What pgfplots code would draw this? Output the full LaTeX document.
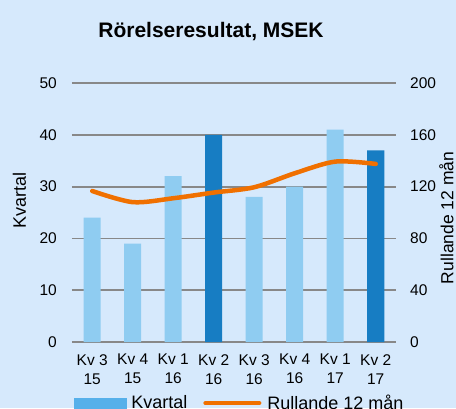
\documentclass[border=0pt]{standalone}
\usepackage{pgfplots}
\pgfplotsset{compat=1.18}
\usepackage{fontspec}
\setmainfont{Liberation Sans}
\definecolor{bg}{RGB}{214,233,252}
\definecolor{lightbar}{RGB}{143,204,241}
\definecolor{darkbar}{RGB}{23,125,195}
\definecolor{legblue}{RGB}{86,176,234}
\definecolor{lineorange}{RGB}{240,112,0}
\definecolor{gridgray}{RGB}{136,136,136}
\begin{document}
\begin{tikzpicture}
\useasboundingbox (0,0) rectangle (456pt,408pt);
\fill[bg] (0,0) rectangle (456pt,408pt);
\clip (0,0) rectangle (456pt,408pt);
\begin{axis}[
  at={(72pt,66pt)}, anchor=south west,
  scale only axis, width=324pt, height=259pt,
  xmin=-0.5, xmax=7.5, ymin=0, ymax=50,
  ytick={0,10,...,50},
  xtick={0,...,7},
  xticklabels={{Kv 3\\15},{Kv 4\\15},{Kv 1\\16},{Kv 2\\16},{Kv 3\\16},{Kv 4\\16},{Kv 1\\17},{Kv 2\\17}},
  ybar, bar width=17pt, bar shift=0pt,
  axis line style={draw=none},
  major tick length=0pt,
  ymajorgrids,
  major grid style={gridgray, line width=1.8pt},
  /pgf/number format/assume math mode=true,
  yticklabel style={font=\fontsize{15.5}{18}\selectfont, inner sep=0pt, xshift=-15pt},
  xticklabel style={font=\fontsize{15.5}{19}\selectfont, align=center, inner sep=0pt, yshift=-12pt},
  ylabel={Kvartal},
  ylabel style={font=\fontsize{18}{20}\selectfont, at={(rel axis cs:-0.162,0.548)}, anchor=center},
  title={\bfseries Rörelseresultat, MSEK},
  title style={font=\fontsize{21}{24}\selectfont, at={(rel axis cs:0.429,1.193)}, anchor=base, yshift=-10pt},
]
\addplot[fill=lightbar, draw=none] coordinates {(0,24) (1,19) (2,32) (4,28) (5,30) (6,41)};
\addplot[fill=darkbar, draw=none] coordinates {(3,40) (7,37)};
\end{axis}
\begin{axis}[
  at={(72pt,66pt)}, anchor=south west,
  scale only axis, width=324pt, height=259pt,
  xmin=-0.5, xmax=7.5, ymin=0, ymax=200,
  axis y line*=right, axis x line=none,
  axis line style={draw=none},
  major tick length=0pt,
  ytick={0,40,...,200},
  /pgf/number format/assume math mode=true,
  yticklabel style={font=\fontsize{15.5}{18}\selectfont, inner sep=0pt, anchor=west, xshift=14pt},
  ylabel={Rullande 12 mån},
  ylabel style={font=\fontsize{17.5}{20}\selectfont, at={(rel axis cs:1.133,0.479)}, anchor=north, inner sep=0pt},
  legend columns=2,
  legend style={draw=none, fill=none, inner sep=0pt, outer sep=0pt,
    at={(rel axis cs:0.006,-0.236)}, anchor=west,
    font=\fontsize{18}{20}\selectfont,
    /tikz/every even column/.append style={column sep=14pt}},
]
\addlegendimage{legend image code/.code={\fill[legblue] (0pt,-5pt) rectangle (52pt,5pt);}}
\addlegendentry{\hspace{3pt}Kvartal}
\addplot[lineorange, line width=4.5pt, smooth, line cap=round,
  legend image code/.code={\draw[lineorange, line width=4pt] (0pt,0pt) -- (54pt,0pt);}]
  coordinates {(0,116.6) (1,108) (2,111) (3,115.4) (4,119.5) (5,130.3) (6,139.3) (7,137.5)};
\addlegendentry{\hspace{4pt}Rullande 12 mån}
\end{axis}
\end{tikzpicture}
\end{document}
